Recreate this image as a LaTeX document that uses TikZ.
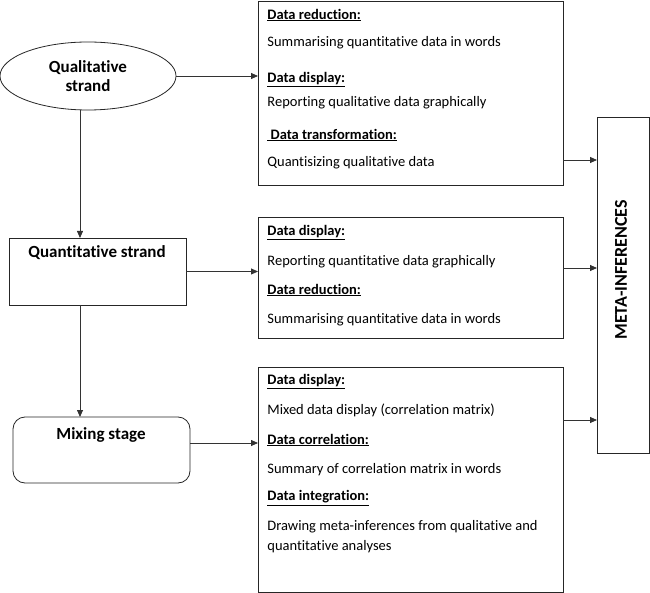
\documentclass[tikz,border=0pt]{standalone}
\usepackage{fontspec}
\setmainfont{Carlito}[Ligatures={NoCommon}]
\usetikzlibrary{arrows.meta,shapes.geometric}
\begin{document}
\begin{tikzpicture}[x=1pt,y=-1pt,
  line width=0.8pt,
  box/.style={draw=black!85, rectangle, inner sep=0pt, outer sep=0pt},
  lbl/.style={font=\fontsize{17}{20}\selectfont\bfseries, inner sep=0pt, align=center},
  hd/.style={anchor=west, inner sep=0pt, font=\fontsize{14.5}{17}\selectfont\bfseries},
  tx/.style={anchor=west, inner sep=0pt, font=\fontsize{14.5}{20}\selectfont, align=left},
  conn/.style={draw=black!80, -{Triangle[length=7pt,width=6pt]}}]
\useasboundingbox (0,0) rectangle (650,593);

% left column
\node[draw=black!85, ellipse, minimum width=176pt, minimum height=68pt, inner sep=0pt, outer sep=0pt, lbl] (ell) at (88,76) {Qualitative\\[-1pt]strand};
\node[box, minimum width=177pt, minimum height=67pt] (qn) at (97.5,271.5) {};
\node[lbl] (qnt) at (97,253) {Quantitative strand};
\node[box, rounded corners=12pt, minimum width=177pt, minimum height=66pt] (mx) at (101.5,450) {};
\node[lbl] (mxt) at (101,435) {Mixing stage};

% boxes
\node[box, minimum width=305pt, minimum height=184pt] (b1) at (410.5,93) {};
\node[box, minimum width=305pt, minimum height=121pt] (b2) at (410.5,277.5) {};
\node[box, minimum width=305pt, minimum height=225pt] (b3) at (410.5,479.5) {};
\node[box, minimum width=52pt, minimum height=336pt] (meta) at (623,285) {};
\node[font=\fontsize{18}{20}\selectfont\bfseries, rotate=90, inner sep=0pt] (metat) at (621,270) {META-INFERENCES};

% box 1 text
\node[hd] (h11) at (267,15) {\underline{Data reduction:}};
\node[tx] (t11) at (267,43) {Summarising quantitative data in words};
\node[hd] (h12) at (267,80) {\underline{Data display:}};
\node[tx] (t12) at (267,103) {Reporting qualitative data graphically};
\node[hd] (h13) at (267,135) {\underline{\ Data transformation:}};
\node[tx] (t13) at (267,163) {Quantisizing qualitative data};

% box 2 text
\node[hd] (h21) at (267,233) {\underline{Data display:}};
\node[tx] (t21) at (267,262) {Reporting quantitative data graphically};
\node[hd] (h22) at (267,290) {\underline{Data reduction:}};
\node[tx] (t22) at (267,320) {Summarising quantitative data in words};

% box 3 text
\node[hd] (h31) at (267,382) {\underline{Data display:}};
\node[tx] (t31) at (267,410) {Mixed data display (correlation matrix)};
\node[hd] (h32) at (267,440) {\underline{Data correlation:}};
\node[tx] (t32) at (267,470) {Summary of correlation matrix in words};
\node[hd] (h33) at (267,498) {\underline{Data integration:}};
\node[tx, anchor=north west] (t33) at (267,520) {Drawing meta-inferences from qualitative and\\quantitative analyses};

% connectors
\coordinate (vx) at (80,0);
\draw[conn] (vx |- ell.south) -- (vx |- qn.north);
\draw[conn] (vx |- qn.south) -- (vx |- mx.north);
\draw[conn] (ell.east) -- (ell.east -| b1.west);
\draw[conn] (qn.east) -- (qn.east -| b2.west);
\draw[conn] ([yshift=7pt]mx.east) -- ([yshift=7pt]mx.east -| b3.west);
\draw[conn] ([yshift=-67pt]b1.east) -- ([yshift=-67pt]b1.east -| meta.west);
\draw[conn] ([yshift=9.5pt]b2.east) -- ([yshift=9.5pt]b2.east -| meta.west);
\draw[conn] ([yshift=59.5pt]b3.east) -- ([yshift=59.5pt]b3.east -| meta.west);
\end{tikzpicture}
\end{document}
